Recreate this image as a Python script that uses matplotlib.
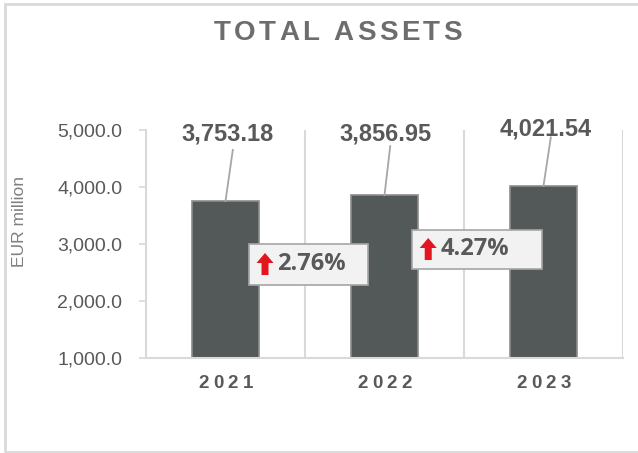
import matplotlib
matplotlib.use("Agg")
import matplotlib.pyplot as plt
import matplotlib.transforms as mtransforms
from matplotlib.patches import Polygon, Rectangle

years = ["2021", "2022", "2023"]
assets = [3753.18, 3856.95, 4021.54]
growth = ["2.76%", "4.27%"]
yticks = [1000, 2000, 3000, 4000, 5000]

W, H = 638, 453
plt.rcParams["font.family"] = ["Liberation Sans", "DejaVu Sans"]

fig = plt.figure(figsize=(W / 100, H / 100), dpi=100)
ax = fig.add_axes([146 / W, 1 - 358 / H, (623 - 146) / W, (358 - 130) / H])

light = "#d9d9d9"
x = list(range(len(years)))
ax.bar(x, [a - 1000 for a in assets], bottom=1000, width=0.42,
       color="#535958", edgecolor="#8c8c8c", linewidth=1.2, zorder=2)

ax.set_xlim(-0.5, 2.5)
ax.set_ylim(1000, 5000)
ax.set_yticks(yticks)
ax.set_yticklabels([f"{v:,.1f}" for v in yticks], fontsize=14, color="#595959")
ax.tick_params(axis="y", length=5, color=light, width=1.2, pad=12)
ax.set_xticks([])
for v in [0.5, 1.5, 2.5]:
    ax.axvline(v, color=light, lw=1.5, zorder=1)
for s in ["top", "right"]:
    ax.spines[s].set_visible(False)
for s in ["left", "bottom"]:
    ax.spines[s].set_color(light)
    ax.spines[s].set_linewidth(1.5)

ax.set_ylabel("EUR million", fontsize=12.5, color="#7f7f7f", labelpad=0)
ax.yaxis.set_label_coords((27 - 146) / (623 - 146), 0.6)

# value labels with leader lines
label_pos = [(0.016, 4930), (1.006, 4930), (2.016, 5017)]
line_top = [4650, 4715, 4870]
for i, a in enumerate(assets):
    lx, ly = label_pos[i]
    ax.text(lx, ly, f"{a:,.2f}", ha="center", va="center", fontsize=17,
            fontweight="bold", color="#595959", zorder=5)
    ax.plot([lx + 0.03, i], [line_top[i], a], color="#a6a6a6", lw=1.3,
            zorder=3, clip_on=False)

# growth boxes (sizes in pixels, anchored at a data point)
box_pos = [(0.519, 2649), (1.58, 2912)]
box_w, box_h = [119, 130], [41, 39]
for (bx, by), g, bw, bh in zip(box_pos, growth, box_w, box_h):
    off = mtransforms.ScaledTranslation(bx, by, ax.transData)
    ax.add_patch(Rectangle((-bw / 2, -bh / 2), bw, bh, transform=off,
                           facecolor="#f2f2f2", edgecolor="#a6a6a6", lw=1.2,
                           zorder=6, clip_on=False))
    ax.text(-bw / 2 + 29, 0, g, transform=off, ha="left", va="center",
            fontsize=17, fontweight="bold", color="#595959", zorder=7,
            family=["Open Sans", "DejaVu Sans"])
    arrow = [(-bw / 2 + 8, 1), (-bw / 2 + 16.5, 11), (-bw / 2 + 25, 1),
             (-bw / 2 + 20, 1), (-bw / 2 + 20, -11), (-bw / 2 + 13, -11),
             (-bw / 2 + 13, 1)]
    ax.add_patch(Polygon(arrow, closed=True, transform=off, facecolor="#e3161f",
                         edgecolor="none", zorder=7, clip_on=False))

fig.canvas.draw()
renderer = fig.canvas.get_renderer()


def spaced_text(cx, cy, s, spacing, **kw):
    widths = []
    for ch in s:
        t = fig.text(0, 0, ch, **kw)
        widths.append(t.get_window_extent(renderer).width)
        t.remove()
    total = sum(widths) + spacing * (len(s) - 1)
    xp = cx - total / 2
    for ch, w in zip(s, widths):
        fig.text(xp / W, cy / H, ch, ha="left", va="center", **kw)
        xp += w + spacing


spaced_text(337.5, H - 33, "TOTAL ASSETS", 3.3, fontsize=20,
            fontweight="bold", color="#6d6d6d")
for i, y in enumerate(years):
    cx = ax.transData.transform((i, 1000))[0]
    spaced_text(cx, H - 383, y, 4.5, fontsize=13.5, fontweight="bold", color="#595959")

# outer chart frame (right edge falls outside the image)
fig.patches.append(Rectangle((5 / W, 1 - 452 / H), 700 / W, 448 / H,
                             transform=fig.transFigure, fill=False,
                             edgecolor=light, lw=2))

fig.savefig("out.png", dpi=100)
